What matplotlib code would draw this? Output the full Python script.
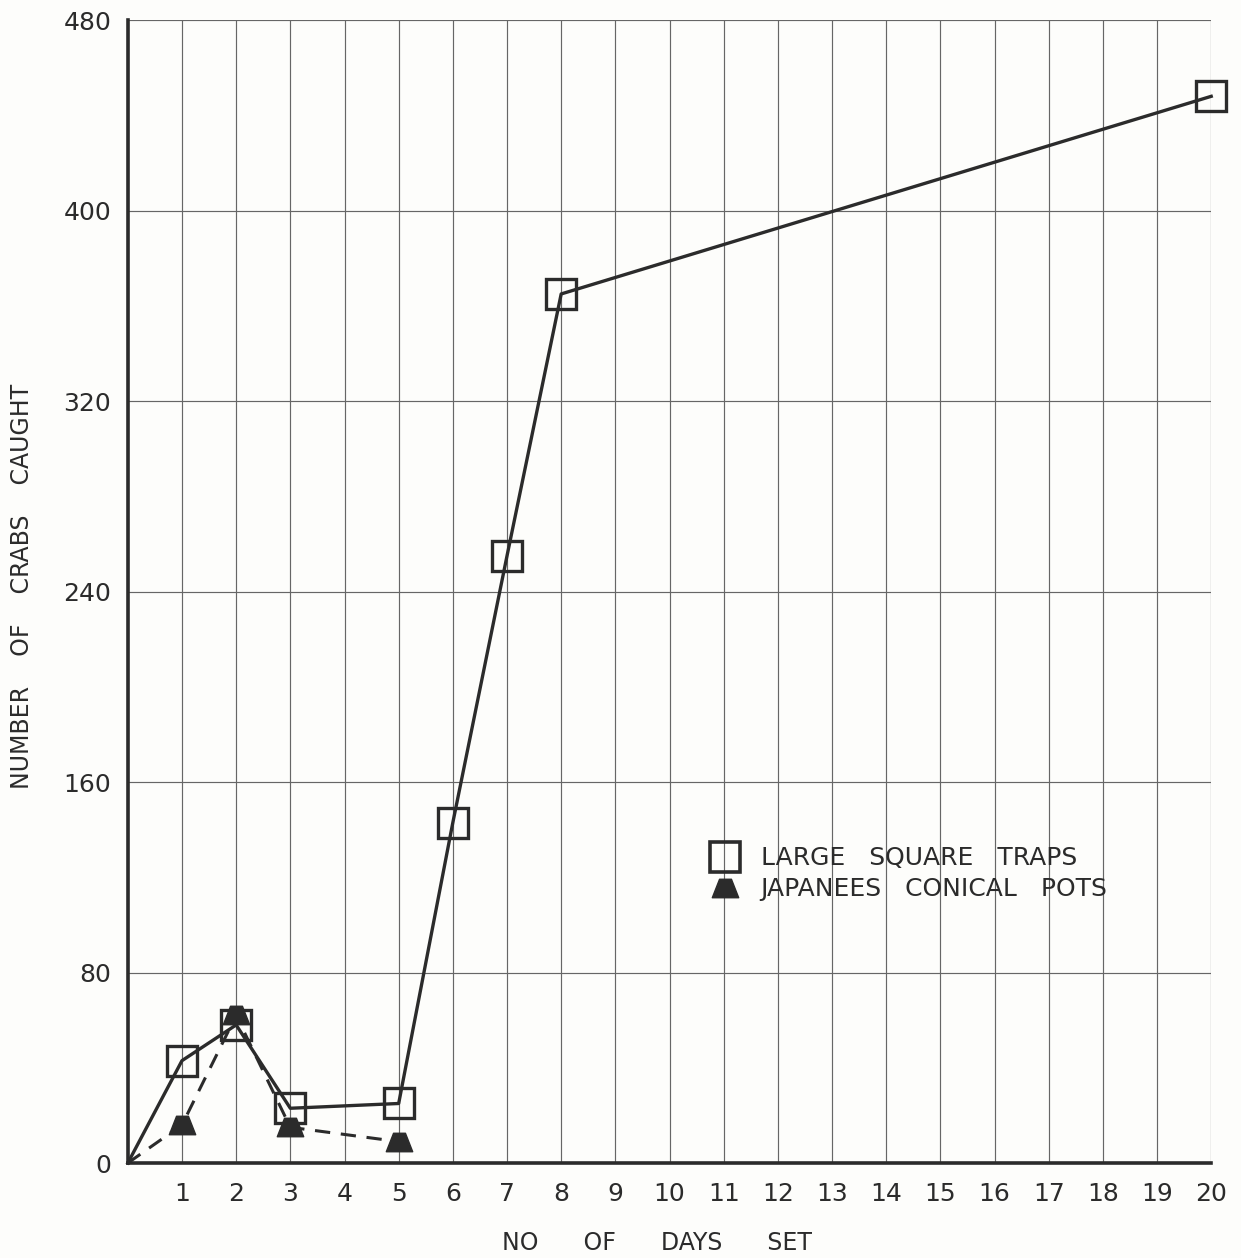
import numpy as np
import matplotlib.pyplot as plt
from matplotlib.path import Path
from matplotlib.lines import Line2D

# data
days_square = [0, 1, 2, 3, 5, 6, 7, 8, 20]
crabs_square = [0, 43, 58, 23, 25, 143, 255, 365, 448]
days_cone = [0, 1, 2, 3, 5]
crabs_cone = [0, 16, 62, 15, 9]
x_ticks = list(range(1, 21))
y_ticks = [0, 80, 160, 240, 320, 400, 480]

ink = '#2b2b2b'
paper = '#fdfdfb'

# trapezoid marker for the conical pots
cone = Path([(-1.0, -0.7), (1.0, -0.7), (0.45, 0.7), (-0.45, 0.7), (-1.0, -0.7)],
            [Path.MOVETO, Path.LINETO, Path.LINETO, Path.LINETO, Path.CLOSEPOLY])

fig = plt.figure(figsize=(12.41, 12.58), dpi=100, facecolor=paper)
ax = fig.add_axes([0.103, 0.0755, 0.873, 0.9085], facecolor=paper)

ax.plot(days_cone, crabs_cone, color=ink, lw=2.2, dashes=(5, 3.5),
        marker=cone, markersize=19, markerfacecolor=ink, markeredgecolor=ink,
        markevery=list(range(1, len(days_cone))), zorder=3, clip_on=False)
ax.plot(days_square, crabs_square, color=ink, lw=2.4,
        marker='s', markersize=21, markerfacecolor='none', markeredgecolor=ink,
        markeredgewidth=2.4, markevery=list(range(1, len(days_square))),
        zorder=4, clip_on=False)

ax.set_xlim(0, 20)
ax.set_ylim(0, 480)
ax.set_xticks(x_ticks)
ax.set_xticklabels([str(d) for d in x_ticks])
ax.set_yticks(y_ticks)
ax.tick_params(axis='both', length=0, labelsize=18, colors=ink)
ax.tick_params(axis='x', pad=14)
ax.tick_params(axis='y', pad=12)

ax.grid(True, color='#666666', lw=0.85)
ax.set_axisbelow(True)
for s in ['top', 'right']:
    ax.spines[s].set_visible(False)
for s in ['left', 'bottom']:
    ax.spines[s].set_linewidth(2.6)
    ax.spines[s].set_color(ink)

fig.text(657 / 1241, 1 - 1243 / 1258, 'NO      OF      DAYS      SET',
         fontsize=17, color=ink, ha='center', va='center')
fig.text(22 / 1241, 1 - 586 / 1258, 'NUMBER    OF    CRABS    CAUGHT',
         fontsize=17, color=ink, ha='center', va='center', rotation=90)

handles = [
    Line2D([], [], ls='none', marker='s', markersize=22, markerfacecolor='none',
           markeredgecolor=ink, markeredgewidth=2.6),
    Line2D([], [], ls='none', marker=cone, markersize=19, markerfacecolor=ink,
           markeredgecolor=ink),
]
leg = ax.legend(handles, ['LARGE   SQUARE   TRAPS', 'JAPANEES   CONICAL   POTS'],
                loc='center left', bbox_to_anchor=(0.538, 0.253), frameon=False,
                fontsize=18, handlelength=1.15, handletextpad=0.85, labelspacing=0.28,
                borderpad=0, borderaxespad=0)
for t in leg.get_texts():
    t.set_color(ink)

fig.savefig('out.png', dpi=100, facecolor=paper)
